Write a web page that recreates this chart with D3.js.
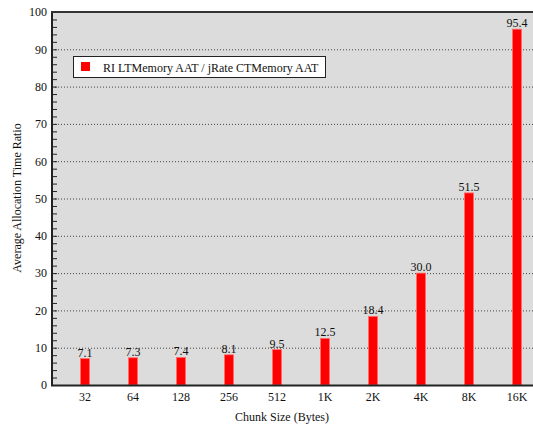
<!DOCTYPE html>
<html>
<head>
<meta charset="utf-8">
<script src="https://cdn.jsdelivr.net/npm/d3@7"></script>
<style>
  html, body { margin: 0; padding: 0; background: #fff; }
</style>
</head>
<body>
<svg id="chart" width="533" height="429"></svg>
<script>
const categories = ["32", "64", "128", "256", "512", "1K", "2K", "4K", "8K", "16K"];
const ratios = [7.1, 7.3, 7.4, 8.1, 9.5, 12.5, 18.4, 30.0, 51.5, 95.4];
const yTicks = [0, 10, 20, 30, 40, 50, 60, 70, 80, 90, 100];
const seriesName = "RI LTMemory AAT / jRate CTMemory AAT";

const FONT = "'Liberation Serif', 'DejaVu Serif', serif";
const svg = d3.select("#chart");
const plot = { left: 52, top: 12, right: 545, bottom: 385 };

const x = d3.scaleBand().domain(categories).range([61, 541]).paddingInner(0.81).paddingOuter(0.405);
const y = d3.scaleLinear().domain([0, 100]).range([plot.bottom, plot.top]);

function styleText(sel) {
  sel.style("font-family", FONT).style("font-size", "12px").style("fill", "#111");
}

// plot background
svg.append("rect")
  .attr("x", plot.left).attr("y", plot.top)
  .attr("width", plot.right - plot.left).attr("height", plot.bottom - plot.top)
  .attr("fill", "#dcdcdc");

// dotted gridlines
svg.append("g").selectAll("line")
  .data(yTicks.filter(d => d > 0 && d < 100))
  .join("line")
  .attr("x1", plot.left).attr("x2", plot.right)
  .attr("y1", d => y(d) + 0.5).attr("y2", d => y(d) + 0.5)
  .attr("stroke", "#444").attr("stroke-width", 1)
  .attr("stroke-dasharray", "1,2");

// minor ticks on the left axis, pointing inward
svg.append("g").selectAll("line")
  .data(d3.range(0, 101, 2))
  .join("line")
  .attr("x1", plot.left).attr("x2", plot.left + 5)
  .attr("y1", d => y(d) + 0.5).attr("y2", d => y(d) + 0.5)
  .attr("stroke", "#222").attr("stroke-width", 1);

// y-axis tick labels
const yAxis = d3.axisLeft(y).tickValues(yTicks).tickSize(0).tickPadding(5);
const yg = svg.append("g").attr("transform", `translate(${plot.left},0)`).call(yAxis);
yg.select(".domain").remove();
yg.selectAll("text").call(styleText);

// bars
svg.append("g").selectAll("rect")
  .data(categories)
  .join("rect")
  .attr("x", (d) => x(d))
  .attr("width", x.bandwidth())
  .attr("y", (d, i) => y(ratios[i]))
  .attr("height", (d, i) => y(0) - y(ratios[i]))
  .attr("fill", "#ff0000")
  .attr("stroke", "#ff7070").attr("stroke-width", 0.8);

// value labels
svg.append("g").selectAll("text")
  .data(categories)
  .join("text")
  .attr("x", d => x(d) + x.bandwidth() / 2)
  .attr("y", (d, i) => y(ratios[i]) - 2)
  .attr("text-anchor", "middle")
  .text((d, i) => ratios[i].toFixed(1))
  .call(styleText);

// frame lines: left, top and bottom
svg.append("line").attr("x1", plot.left).attr("x2", plot.left)
  .attr("y1", plot.top).attr("y2", plot.bottom + 1)
  .attr("stroke", "#222").attr("stroke-width", 2);
svg.append("line").attr("x1", plot.left - 1).attr("x2", plot.right)
  .attr("y1", plot.top).attr("y2", plot.top)
  .attr("stroke", "#333").attr("stroke-width", 2);
svg.append("line").attr("x1", plot.left - 1).attr("x2", plot.right)
  .attr("y1", plot.bottom + 0.5).attr("y2", plot.bottom + 0.5)
  .attr("stroke", "#222").attr("stroke-width", 2);

// x-axis category labels
const xAxis = d3.axisBottom(x).tickSize(0).tickPadding(6);
const xg = svg.append("g").attr("transform", `translate(0,${plot.bottom + 1})`).call(xAxis);
xg.select(".domain").remove();
xg.selectAll("text").call(styleText);

// axis titles
svg.append("text")
  .attr("x", 282).attr("y", 421)
  .attr("text-anchor", "middle")
  .text("Chunk Size (Bytes)")
  .call(styleText);
svg.append("text")
  .attr("transform", "translate(21,198) rotate(-90)")
  .attr("text-anchor", "middle")
  .text("Average Allocation Time Ratio")
  .call(styleText);

// legend
const legend = svg.append("g");
legend.append("rect")
  .attr("x", 73.5).attr("y", 56.5).attr("width", 252).attr("height", 21)
  .attr("fill", "#fff").attr("stroke", "#222").attr("stroke-width", 1);
legend.append("rect")
  .attr("x", 81).attr("y", 62).attr("width", 9).attr("height", 9)
  .attr("fill", "#ff0000");
legend.append("text")
  .attr("x", 103).attr("y", 71.5)
  .text(seriesName)
  .call(styleText);
</script>
</body>
</html>
